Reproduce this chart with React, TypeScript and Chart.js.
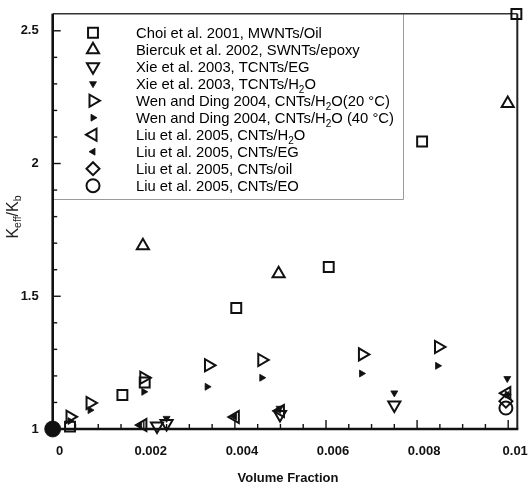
import React, { useEffect, useRef } from 'react';
import { Chart, registerables } from 'chart.js';
import { drawPoint } from 'chart.js/helpers';

Chart.register(...registerables);

// ---------- axes ----------
const xMin = 0;
const xMax = 0.0102;
const yMin = 1;
const yMax = 2.564;
const xTicks = [0, 0.002, 0.004, 0.006, 0.008, 0.01];
const xTickLabels = ['0', '0.002', '0.004', '0.006', '0.008', '0.01'];
const xMinorStep = 0.0005;
const yTicks = [1, 1.5, 2, 2.5];
const yTickLabels = ['1', '1.5', '2', '2.5'];
const yMinorStep = 0.1;
const xTitle = 'Volume Fraction';
const yTitleParts = [
  { t: 'K', sub: false },
  { t: 'eff', sub: true },
  { t: '/K', sub: false },
  { t: 'b', sub: true },
];

// ---------- series ----------
const choiX = [0.00038, 0.00153, 0.00202, 0.00403, 0.00606, 0.00811, 0.01018];
const choiY = [1.009, 1.128, 1.175, 1.456, 1.61, 2.083, 2.563];

const biercukX = [0.00198, 0.00496, 0.00999];
const biercukY = [1.69, 1.585, 2.226];

const xieEGX = [0.00229, 0.0025, 0.00499, 0.0075];
const xieEGY = [1.011, 1.021, 1.055, 1.09];

const xieH2OX = [0.0025, 0.00498, 0.0075, 0.00998];
const xieH2OY = [1.04, 1.078, 1.136, 1.19];

const wen20X = [0.00038, 0.00082, 0.002, 0.00342, 0.00459, 0.0068, 0.00847];
const wen20Y = [1.046, 1.098, 1.193, 1.24, 1.26, 1.281, 1.309];

const wen40X = [0.00038, 0.00082, 0.002, 0.00339, 0.00459, 0.00678, 0.00845, 0.00998];
const wen40Y = [1.03, 1.071, 1.14, 1.159, 1.193, 1.209, 1.238, 1.13];

const liuH2OX = [0.00198, 0.00401, 0.005, 0.00997];
const liuH2OY = [1.015, 1.045, 1.068, 1.135];

const liuEGX = [0.00191, 0.00399, 0.00496, 0.00997];
const liuEGY = [1.015, 1.046, 1.072, 1.128];

const liuOilX = [0.00995];
const liuOilY = [1.105];

const liuEOX = [0.00995];
const liuEOY = [1.079];

const baseX = [0];
const baseY = [1];

const seriesLabels = [
  'Choi et al. 2001, MWNTs/Oil',
  'Biercuk et al. 2002, SWNTs/epoxy',
  'Xie et al. 2003, TCNTs/EG',
  'Xie et al. 2003, TCNTs/H₂O',
  'Wen and Ding 2004, CNTs/H₂O(20 °C)',
  'Wen and Ding 2004, CNTs/H₂O (40 °C)',
  'Liu et al. 2005, CNTs/H₂O',
  'Liu et al. 2005, CNTs/EG',
  'Liu et al. 2005, CNTs/oil',
  'Liu et al. 2005, CNTs/EO',
];

const FONT = '"Liberation Sans", Arial, Helvetica, sans-serif';
const INK = '#111';
const OPEN = 'rgba(0,0,0,0)';

const toPts = (xs: number[], ys: number[]) => xs.map((x, i) => ({ x, y: ys[i] }));

type Seg = { t: string; sub: boolean };

function splitSub(s: string): Seg[] {
  const out: Seg[] = [];
  let cur = '';
  for (const ch of s) {
    if (ch === '₂') {
      if (cur) out.push({ t: cur, sub: false });
      out.push({ t: '2', sub: true });
      cur = '';
    } else cur += ch;
  }
  if (cur) out.push({ t: cur, sub: false });
  return out;
}

function drawRich(ctx: CanvasRenderingContext2D, segs: Seg[], x: number, y: number, size: number, subSize: number, subDrop: number, weight: string, measureOnly = false) {
  let cx = x;
  for (const s of segs) {
    ctx.font = `${weight} ${s.sub ? subSize : size}px ${FONT}`;
    if (!measureOnly) ctx.fillText(s.t, cx, s.sub ? y + subDrop : y);
    cx += ctx.measureText(s.t).width;
  }
  return cx - x;
}

const legendPlugin = {
  id: 'customLegend',
  beforeDatasetsDraw(chart: any) {
    const { ctx, chartArea: a } = chart;
    ctx.save();
    const right = 403;
    const bottom = 199;
    ctx.fillStyle = '#fff';
    ctx.fillRect(a.left, a.top, right - a.left, bottom - a.top);
    ctx.strokeStyle = '#9a9a9a';
    ctx.lineWidth = 1;
    ctx.beginPath();
    ctx.moveTo(right + 0.5, a.top);
    ctx.lineTo(right + 0.5, bottom + 0.5);
    ctx.lineTo(a.left, bottom + 0.5);
    ctx.stroke();

    const items = chart.data.datasets.filter((d: any) => d.inLegend);
    items.forEach((d: any, i: number) => {
      const rowY = 32.7 + i * 17;
      ctx.fillStyle = d.pointBackgroundColor;
      ctx.strokeStyle = INK;
      ctx.lineWidth = d.pointBorderWidth;
      drawPoint(ctx, {
        pointStyle: d.pointStyle,
        rotation: d.pointRotation,
        radius: d.pointRadius,
        borderWidth: d.pointBorderWidth,
      } as any, 93, rowY);
      ctx.fillStyle = '#000';
      ctx.textBaseline = 'alphabetic';
      ctx.textAlign = 'left';
      drawRich(ctx, splitSub(d.label), 136, rowY + 5.3, 14.8, 10, 3.5, 'normal');
    });
    ctx.restore();
  },
};

const framePlugin = {
  id: 'frame',
  beforeDatasetsDraw(chart: any) {
    const { ctx, chartArea: a, scales } = chart;
    const xs = scales.x;
    const ys = scales.y;
    ctx.save();
    ctx.strokeStyle = INK;
    // y ticks (inward)
    ctx.lineWidth = 1.4;
    for (let k = 0; ; k++) {
      const v = yMin + k * yMinorStep;
      if (v > yMax + 1e-9) break;
      const major = yTicks.some((t) => Math.abs(t - v) < 1e-9);
      const py = ys.getPixelForValue(v);
      ctx.beginPath();
      ctx.moveTo(a.left, py);
      ctx.lineTo(a.left + (major ? 8 : 4.5), py);
      ctx.stroke();
    }
    // x ticks (inward)
    for (let k = 0; ; k++) {
      const v = xMin + k * xMinorStep;
      if (v > xTicks[xTicks.length - 1] + 1e-9) break;
      const major = xTicks.some((t) => Math.abs(t - v) < 1e-9);
      const px = xs.getPixelForValue(v);
      ctx.beginPath();
      ctx.moveTo(px, a.bottom);
      ctx.lineTo(px, a.bottom - (major ? 9 : 5));
      ctx.stroke();
    }
    // frame
    const line = (w: number, x1: number, y1: number, x2: number, y2: number, c = INK) => {
      ctx.strokeStyle = c;
      ctx.lineWidth = w;
      ctx.beginPath();
      ctx.moveTo(x1, y1);
      ctx.lineTo(x2, y2);
      ctx.stroke();
    };
    line(1.5, a.left, a.top, a.right, a.top, '#333');
    line(2, a.right, a.top, a.right, a.bottom, '#222');
    line(2.6, a.left, a.top, a.left, a.bottom + 1.3);
    line(2.6, a.left - 1.3, a.bottom, a.right + 1, a.bottom);

    // titles
    ctx.fillStyle = INK;
    ctx.textBaseline = 'middle';
    ctx.textAlign = 'center';
    ctx.font = `bold 13px ${FONT}`;
    ctx.fillText(xTitle, (a.left + a.right) / 2 + 3, 478);

    ctx.textAlign = 'left';
    ctx.textBaseline = 'alphabetic';
    const w = drawRich(ctx, yTitleParts, 0, 0, 16, 10.5, 3.5, 'normal', true);
    ctx.translate(17.5, 217);
    ctx.rotate(-Math.PI / 2);
    ctx.fillStyle = '#222';
    drawRich(ctx, yTitleParts, -w / 2, 0, 16, 10.5, 3.5, 'normal');
    ctx.restore();
  },
};

function makeSet(label: string, xs: number[], ys: number[], style: string, rotation: number, radius: number, filled: boolean, inLegend = true) {
  return {
    label,
    data: toPts(xs, ys),
    showLine: false,
    pointStyle: style,
    pointRotation: rotation,
    pointRadius: radius,
    pointHoverRadius: radius,
    pointBorderWidth: filled ? 0.8 : 2,
    pointBorderColor: INK,
    pointBackgroundColor: filled ? INK : OPEN,
    clip: false,
    inLegend,
  };
}

export default function App() {
  const ref = useRef<HTMLCanvasElement | null>(null);

  useEffect(() => {
    if (!ref.current) return;
    const datasets: any[] = [
      makeSet(seriesLabels[0], choiX, choiY, 'rect', 0, 7, false),
      makeSet(seriesLabels[1], biercukX, biercukY, 'triangle', 0, 7, false),
      makeSet(seriesLabels[2], xieEGX, xieEGY, 'triangle', 180, 7, false),
      makeSet(seriesLabels[3], xieH2OX, xieH2OY, 'triangle', 180, 4, true),
      makeSet(seriesLabels[4], wen20X, wen20Y, 'triangle', 90, 7, false),
      makeSet(seriesLabels[5], wen40X, wen40Y, 'triangle', 90, 4, true),
      makeSet(seriesLabels[6], liuH2OX, liuH2OY, 'triangle', 270, 7, false),
      makeSet(seriesLabels[7], liuEGX, liuEGY, 'triangle', 270, 4, true),
      makeSet(seriesLabels[8], liuOilX, liuOilY, 'rectRot', 0, 6.5, false),
      makeSet(seriesLabels[9], liuEOX, liuEOY, 'circle', 0, 6.5, false),
      makeSet('base', baseX, baseY, 'circle', 0, 8, true, false),
    ];
    const chart = new Chart(ref.current, {
      type: 'scatter',
      data: { datasets },
      options: {
        responsive: false,
        animation: false,
        events: [],
        layout: { padding: { left: 0, right: 529 - 517.3, top: 13, bottom: 0 } },
        plugins: { legend: { display: false }, tooltip: { enabled: false } },
        scales: {
          x: {
            type: 'linear',
            min: xMin,
            max: xMax,
            afterFit: (s: any) => { s.height = 61; },
            afterBuildTicks: (s: any) => { s.ticks = xTicks.map((v) => ({ value: v })); },
            grid: { display: false },
            border: { display: false },
            ticks: {
              callback: (_v: any, i: number) => xTickLabels[i],
              font: { family: FONT, size: 13, weight: 'bold' },
              color: INK,
              padding: 7,
              labelOffset: 7,
              maxRotation: 0,
              autoSkip: false,
            },
          },
          y: {
            type: 'linear',
            min: yMin,
            max: yMax,
            afterFit: (s: any) => { s.width = 52.7; },
            afterBuildTicks: (s: any) => { s.ticks = yTicks.map((v) => ({ value: v })); },
            grid: { display: false },
            border: { display: false },
            ticks: {
              callback: (_v: any, i: number) => yTickLabels[i],
              font: { family: FONT, size: 13, weight: 'bold' },
              color: INK,
              padding: 6,
              autoSkip: false,
            },
          },
        },
      } as any,
      plugins: [legendPlugin, framePlugin],
    });
    return () => chart.destroy();
  }, []);

  return (
    <div style={{ position: 'absolute', left: 0, top: 0, width: 529, height: 490, background: '#fff' }}>
      <canvas ref={ref} width={529} height={490} style={{ display: 'block' }} />
    </div>
  );
}
